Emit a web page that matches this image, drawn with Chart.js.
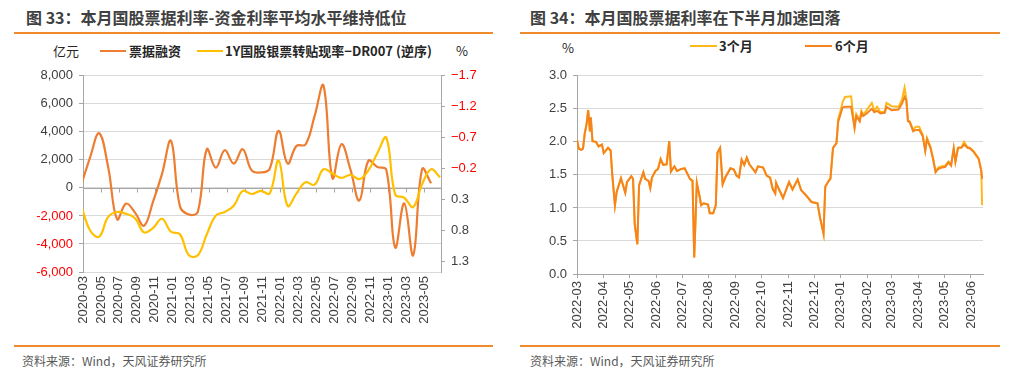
<!DOCTYPE html>
<html>
<head>
<meta charset="utf-8">
<script src="https://cdn.jsdelivr.net/npm/chart.js@4.4.0/dist/chart.umd.min.js"></script>
<style>
  body { margin: 0; width: 1035px; height: 377px; background: #fff; position: relative; overflow: hidden;
         font-family: "Noto Sans CJK SC", "Liberation Sans", sans-serif; }
  .t { position: absolute; white-space: nowrap; line-height: 1; }
  .title { font-size: 16px; font-weight: bold; color: #404040; }
  .rule { position: absolute; height: 2px; background: #EF8B2C; }
  .src { font-size: 12px; color: #595959; }
  .lg { font-size: 13px; color: #262626; }
  .lgb { font-size: 13px; color: #262626; font-weight: bold; }
  .ln { position: absolute; height: 2px; }
  .box { position: absolute; }
</style>
</head>
<body>
<div class="t title" style="left:26px;top:9px">图 33：本月国股票据利率-资金利率平均水平维持低位</div>
<div class="rule" style="left:14px;top:32px;width:479px"></div>
<div class="t title" style="left:530px;top:9px">图 34：本月国股票据利率在下半月加速回落</div>
<div class="rule" style="left:520px;top:32px;width:480px"></div>

<div class="t lg" style="left:53px;top:44px">亿元</div>
<div class="ln" style="left:100px;top:50px;width:26px;background:#ED7D31"></div>
<div class="t lgb" style="left:129px;top:44px">票据融资</div>
<div class="ln" style="left:197px;top:50px;width:26px;background:#FFC000"></div>
<div class="t lgb" style="left:225px;top:44px">1Y国股银票转贴现率−DR007 (逆序)</div>
<div class="t lg" style="left:456px;top:44px">%</div>

<div class="t lg" style="left:562px;top:41px">%</div>
<div class="ln" style="left:690px;top:45px;width:27px;background:#FFB81C"></div>
<div class="t lgb" style="left:719px;top:39px">3个月</div>
<div class="ln" style="left:805px;top:45px;width:27px;background:#F5841F"></div>
<div class="t lgb" style="left:835px;top:39px">6个月</div>

<div class="box" style="left:0;top:62px;width:517px;height:278px"><canvas id="c1"></canvas></div>
<div class="box" style="left:517px;top:62px;width:518px;height:278px"><canvas id="c2"></canvas></div>

<div class="rule" style="left:14px;top:345px;width:479px"></div>
<div class="rule" style="left:520px;top:345px;width:480px"></div>
<div class="t src" style="left:22px;top:355px">资料来源：Wind，天风证券研究所</div>
<div class="t src" style="left:530px;top:355px">资料来源：Wind，天风证券研究所</div>

<script>
// ---- 图33: monthly, 2020-02 .. 2023-06 ----
const months = ["2020-02","2020-03","2020-04","2020-05","2020-06","2020-07","2020-08","2020-09","2020-10","2020-11","2020-12",
  "2021-01","2021-02","2021-03","2021-04","2021-05","2021-06","2021-07","2021-08","2021-09","2021-10","2021-11","2021-12",
  "2022-01","2022-02","2022-03","2022-04","2022-05","2022-06","2022-07","2022-08","2022-09","2022-10","2022-11","2022-12",
  "2023-01","2023-02","2023-03","2023-04","2023-05","2023-06"];
// 票据融资, 亿元
const billFinancing = [200, 2200, 3900, 1500, -2240, -1120, -1760, -2700, -1000, 980, 3360,
  -1300, -1900, -1700, 2760, 1450, 2690, 1740, 2760, 1250, 1100, 1350, 4070,
  1740, 3000, 3100, 5100, 7300, 700, 3120, 1330, -900, 1930, 1500, 1300,
  -4250, -1100, -4800, 1350, 330, null];
// 1Y国股银票转贴现率-DR007, %, 右轴逆序
const rateSpread = [0.40, 0.80, 0.90, 0.58, 0.50, 0.53, 0.60, 0.83, 0.76, 0.61, 0.82,
  0.86, 1.20, 1.20, 0.86, 0.56, 0.50, 0.40, 0.16, 0.21, 0.16, 0.20, -0.33,
  0.40, 0.20, 0.02, 0.06, -0.19, -0.12, -0.05, -0.10, -0.03, -0.17, -0.45, -0.70,
  0.22, 0.27, 0.42, 0.05, -0.19, -0.06];
const leftTicks = [-6000, -4000, -2000, 0, 2000, 4000, 6000, 8000];
const rightTicks = [-1.7, -1.2, -0.7, -0.2, 0.3, 0.8, 1.3];

// ---- 图34: daily-ish, 2022-03 .. 2023-06 ----
const rDates = ["2022-03-01","2022-03-03","2022-03-06","2022-03-08","2022-03-10","2022-03-12","2022-03-14","2022-03-16","2022-03-17","2022-03-19",
  "2022-03-23","2022-03-26","2022-03-30","2022-04-01","2022-04-06","2022-04-09","2022-04-11","2022-04-14","2022-04-16","2022-04-21",
  "2022-04-26","2022-04-28","2022-05-03","2022-05-05","2022-05-07","2022-05-10","2022-05-12","2022-05-17","2022-05-19","2022-05-23",
  "2022-05-25","2022-05-27","2022-05-31","2022-06-03","2022-06-06","2022-06-09","2022-06-13","2022-06-16","2022-06-18","2022-06-22",
  "2022-06-25","2022-06-30","2022-07-04","2022-07-10","2022-07-13","2022-07-15","2022-07-18","2022-07-21","2022-07-23","2022-07-26",
  "2022-07-31","2022-08-02","2022-08-06","2022-08-09","2022-08-11","2022-08-14","2022-08-17","2022-08-20","2022-08-26","2022-08-30",
  "2022-09-02","2022-09-05","2022-09-08","2022-09-11","2022-09-14","2022-09-17","2022-09-24","2022-09-27","2022-10-03","2022-10-07",
  "2022-10-11","2022-10-14","2022-10-17","2022-10-18","2022-10-21","2022-10-26","2022-11-02","2022-11-06","2022-11-12","2022-11-16",
  "2022-11-21","2022-11-23","2022-11-28","2022-12-05","2022-12-08","2022-12-12","2022-12-14","2022-12-18","2022-12-20","2022-12-23",
  "2022-12-27","2022-12-29","2023-01-01","2023-01-03","2023-01-06","2023-01-13","2023-01-17","2023-01-19","2023-01-23","2023-01-25",
  "2023-01-27","2023-01-31","2023-02-06","2023-02-09","2023-02-12","2023-02-16","2023-02-21","2023-02-23","2023-03-01","2023-03-09",
  "2023-03-13","2023-03-16","2023-03-18","2023-03-20","2023-03-22","2023-03-26","2023-03-29","2023-04-02","2023-04-06","2023-04-09",
  "2023-04-11","2023-04-15","2023-04-18","2023-04-21","2023-04-24","2023-04-28","2023-05-02","2023-05-06","2023-05-09","2023-05-12",
  "2023-05-14","2023-05-17","2023-05-21","2023-05-24","2023-05-28","2023-05-31","2023-06-04","2023-06-10","2023-06-13","2023-06-14"];
const rate3m = [2.03,1.90,1.88,1.90,2.13,2.26,2.48,2.16,2.37,2.01,
  2.00,1.93,1.96,1.83,1.91,1.87,1.49,1.04,1.24,1.45,
  1.23,1.39,1.48,1.44,0.75,0.45,1.34,1.54,1.44,1.41,
  1.30,1.46,1.56,1.59,1.74,1.65,1.66,2.01,1.55,1.63,
  1.56,1.59,1.60,1.44,1.41,0.25,1.38,1.19,1.04,1.07,
  1.05,0.92,0.92,1.04,1.84,1.91,1.36,1.46,1.60,1.58,
  1.49,1.46,1.73,1.65,1.76,1.66,1.54,1.63,1.61,1.49,
  1.46,1.29,1.22,1.38,1.29,1.15,1.39,1.28,1.43,1.27,
  1.20,1.17,1.09,1.07,0.85,0.61,1.32,1.41,1.44,1.91,
  1.98,2.35,2.48,2.60,2.68,2.69,2.22,2.42,2.33,2.47,
  2.41,2.48,2.59,2.47,2.53,2.45,2.46,2.59,2.54,2.53,
  2.64,2.82,2.66,2.33,2.31,2.18,2.23,2.23,2.11,1.88,
  2.06,1.93,1.76,1.55,1.61,1.63,1.64,1.70,1.65,1.90,
  1.70,1.91,1.92,2.00,1.92,1.91,1.86,1.75,1.57,1.04];
const rate6m = [2.03,1.90,1.88,1.90,2.13,2.26,2.48,2.16,2.37,2.01,
  2.00,1.93,1.96,1.83,1.91,1.87,1.49,1.04,1.24,1.45,
  1.23,1.39,1.48,1.44,0.75,0.45,1.34,1.54,1.44,1.41,
  1.30,1.46,1.56,1.59,1.74,1.65,1.66,2.01,1.55,1.63,
  1.56,1.59,1.60,1.44,1.41,0.25,1.38,1.19,1.04,1.07,
  1.05,0.92,0.92,1.04,1.84,1.91,1.36,1.46,1.60,1.58,
  1.49,1.46,1.73,1.65,1.76,1.66,1.54,1.63,1.61,1.49,
  1.46,1.29,1.22,1.38,1.29,1.15,1.39,1.28,1.43,1.27,
  1.20,1.17,1.09,1.07,0.85,0.61,1.32,1.41,1.44,1.91,
  1.98,2.30,2.43,2.52,2.53,2.53,2.21,2.39,2.31,2.44,
  2.39,2.43,2.50,2.45,2.47,2.43,2.44,2.53,2.48,2.49,
  2.58,2.68,2.63,2.31,2.30,2.16,2.18,2.18,2.09,1.86,
  2.04,1.91,1.74,1.54,1.59,1.61,1.62,1.69,1.64,1.90,
  1.70,1.91,1.91,1.96,1.91,1.90,1.85,1.74,1.56,1.44];
const rMonthTicks = ["2022-03","2022-04","2022-05","2022-06","2022-07","2022-08","2022-09","2022-10",
  "2022-11","2022-12","2023-01","2023-02","2023-03","2023-04","2023-05","2023-06"];

const tickFont = { family: "'Liberation Sans', Arial, sans-serif", size: 13 };
const axisGray = "#a6a6a6";
const gridGray = "#d9d9d9";

// month points sit about 0.8 month into the period
const POS_IN_MONTH = 0.8;
const monthIdx = s => { const [y, m] = s.split("-").map(Number); return (y - 2020) * 12 + (m - 3); };
const monthName = i => { const t = 2020 * 12 + 2 + i; return Math.floor(t / 12) + "-" + String(t % 12 + 1).padStart(2, "0"); };

// x axis crosses at 0 on the left chart, with its tick marks there
const zeroAxis = {
  id: "zeroAxis",
  beforeDatasetsDraw(chart) {
    const { ctx, chartArea, scales: { x, y } } = chart;
    const y0 = Math.round(y.getPixelForValue(0)) + 0.5;
    ctx.save();
    ctx.strokeStyle = axisGray;
    ctx.lineWidth = 1;
    ctx.beginPath();
    ctx.moveTo(chartArea.left, y0);
    ctx.lineTo(chartArea.right, y0);
    x.ticks.forEach(t => {
      const px = Math.round(x.getPixelForValue(t.value)) + 0.5;
      ctx.moveTo(px, y0);
      ctx.lineTo(px, y0 + 4);
    });
    ctx.stroke();
    ctx.restore();
  }
};

new Chart(document.getElementById("c1"), {
  type: "line",
  data: {
    datasets: [
      {
        label: "1Y国股银票转贴现率−DR007 (逆序)",
        data: rateSpread.map((v, i) => ({ x: monthIdx(months[i]) + POS_IN_MONTH, y: v })),
        yAxisID: "y1",
        borderColor: "#FFC000",
        borderWidth: 2.2,
        tension: 0.4,
        pointRadius: 0,
      },
      {
        label: "票据融资",
        data: billFinancing.map((v, i) => ({ x: monthIdx(months[i]) + POS_IN_MONTH, y: v })),
        yAxisID: "y",
        borderColor: "#ED7D31",
        borderWidth: 2.2,
        tension: 0.4,
        pointRadius: 0,
      },
    ],
  },
  options: {
    responsive: true,
    maintainAspectRatio: false,
    animation: false,
    layout: { padding: { top: 13, left: 0, right: 0, bottom: 0 } },
    plugins: { legend: { display: false }, tooltip: { enabled: false } },
    scales: {
      x: {
        type: "linear",
        min: 0,
        max: 39.9,
        afterBuildTicks: s => { s.ticks = []; for (let i = 0; i <= 38; i += 2) s.ticks.push({ value: i }); },
        afterFit: s => { s.height = 68; },
        ticks: { autoSkip: false, minRotation: 90, maxRotation: 90, padding: 4, font: tickFont, color: "#404040",
                 callback: v => monthName(v) },
        grid: { drawOnChartArea: false, drawTicks: false },
        border: { color: gridGray },
      },
      y: {
        position: "left",
        min: -6000,
        max: 8000,
        afterBuildTicks: s => { s.ticks = leftTicks.map(v => ({ value: v })); },
        afterFit: s => { s.width = 83; },
        ticks: { font: tickFont, padding: 6,
                 color: c => c.tick.value < 0 ? "#ff0000" : "#404040",
                 callback: v => v.toLocaleString("en-US") },
        grid: { color: gridGray, tickColor: axisGray, tickLength: 4 },
        border: { color: axisGray },
      },
      y1: {
        position: "right",
        reverse: true,
        min: -1.7,
        max: 1.47,
        afterBuildTicks: s => { s.ticks = rightTicks.map(v => ({ value: v })); },
        afterFit: s => { s.width = 76; },
        ticks: { font: tickFont, padding: 6,
                 color: c => c.tick.value < 0 ? "#ff0000" : "#404040",
                 callback: v => (v < 0 ? "−" + Math.abs(v).toFixed(1) : v.toFixed(1)) },
        grid: { drawOnChartArea: false, tickColor: axisGray, tickLength: 4 },
        border: { color: axisGray },
      },
    },
  },
  plugins: [zeroAxis],
});

const DAY0 = Date.UTC(2022, 2, 1);
const dayOf = s => { const [y, m, d] = s.split("-").map(Number); return (Date.UTC(y, m - 1, d || 1) - DAY0) / 86400000; };

new Chart(document.getElementById("c2"), {
  type: "line",
  data: {
    datasets: [
      {
        label: "3个月",
        data: rate3m.map((v, i) => ({ x: dayOf(rDates[i]), y: v })),
        borderColor: "#FFB81C",
        borderWidth: 2,
        tension: 0,
        pointRadius: 0,
        order: 2, // drawn underneath
      },
      {
        label: "6个月",
        data: rate6m.map((v, i) => ({ x: dayOf(rDates[i]), y: v })),
        borderColor: "#F5841F",
        borderWidth: 2,
        tension: 0,
        pointRadius: 0,
        order: 1,
      },
    ],
  },
  options: {
    responsive: true,
    maintainAspectRatio: false,
    animation: false,
    layout: { padding: { top: 10, left: 0, right: 52, bottom: 0 } },
    plugins: { legend: { display: false }, tooltip: { enabled: false } },
    scales: {
      x: {
        type: "linear",
        min: 0,
        max: dayOf("2023-06-15"),
        afterBuildTicks: s => { s.ticks = rMonthTicks.map(m => ({ value: dayOf(m) })); },
        afterFit: s => { s.height = 66; },
        ticks: { autoSkip: false, minRotation: 90, maxRotation: 90, padding: 3, font: tickFont, color: "#404040",
                 callback: (v, i) => rMonthTicks[i] },
        grid: { drawOnChartArea: false, tickColor: axisGray, tickLength: 4 },
        border: { color: axisGray },
      },
      y: {
        min: 0,
        max: 3,
        ticks: { stepSize: 0.5, font: tickFont, padding: 6, color: "#404040", callback: v => v.toFixed(1) },
        afterFit: s => { s.width = 60; },
        grid: { color: gridGray, tickColor: axisGray, tickLength: 4 },
        border: { color: axisGray },
      },
    },
  },
});
</script>
</body>
</html>
